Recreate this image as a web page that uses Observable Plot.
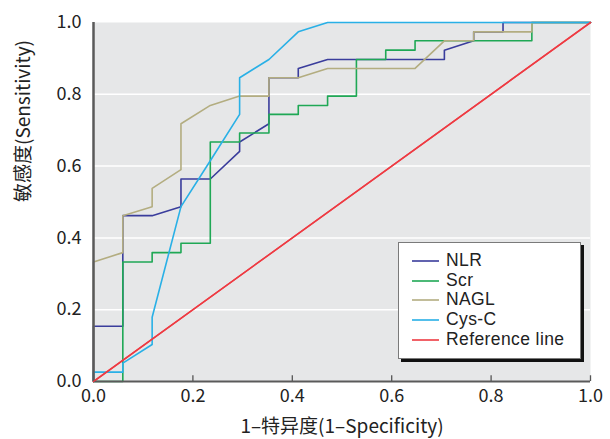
<!DOCTYPE html>
<html>
<head>
<meta charset="utf-8">
<script src="https://cdn.jsdelivr.net/npm/d3@7"></script>
<script src="https://cdn.jsdelivr.net/npm/@observablehq/plot@0.6"></script>
<style>
  body { margin: 0; background: #fff; }
  #wrap { position: relative; width: 610px; height: 439px; font-family: "Noto Sans CJK SC", "Noto Sans", sans-serif; }
  #legend { position: absolute; left: 398px; top: 242px; width: 183px; height: 117px;
    background: #fff; border: 1px solid #7a7a7a; box-shadow: 3px 3px 0 #111; box-sizing: border-box;
    padding-top: 8px; }
  .row { display: flex; align-items: center; height: 19.7px; font-family: "Liberation Sans", Arial, sans-serif;
    font-size: 17.5px; letter-spacing: 0.4px; color: #222; }
  .row span { line-height: 19.7px; white-space: nowrap; }
  .row svg { margin-left: 13px; margin-right: 7px; }
</style>
</head>
<body>
<div id="wrap"><div id="chart"></div><div id="legend"></div></div>
<script>
// ---- data ----
const nlrFpr = [0, 0, 0.059, 0.059, 0.118, 0.176, 0.176, 0.235, 0.294, 0.294, 0.353, 0.353, 0.412, 0.412, 0.471, 0.706, 0.706, 0.765, 0.765, 0.824, 0.824, 1];
const nlrTpr = [0, 0.154, 0.154, 0.462, 0.462, 0.487, 0.564, 0.564, 0.641, 0.667, 0.718, 0.846, 0.846, 0.872, 0.897, 0.897, 0.923, 0.949, 0.974, 0.974, 1, 1];

const scrFpr = [0, 0.059, 0.059, 0.118, 0.118, 0.176, 0.176, 0.235, 0.235, 0.294, 0.294, 0.353, 0.353, 0.412, 0.412, 0.471, 0.471, 0.529, 0.529, 0.588, 0.588, 0.647, 0.647, 0.882, 0.882, 1];
const scrTpr = [0, 0, 0.333, 0.333, 0.359, 0.359, 0.385, 0.385, 0.667, 0.667, 0.692, 0.692, 0.744, 0.744, 0.769, 0.769, 0.795, 0.795, 0.897, 0.897, 0.923, 0.923, 0.949, 0.949, 1, 1];

const naglFpr = [0, 0, 0.059, 0.059, 0.118, 0.118, 0.176, 0.176, 0.235, 0.294, 0.353, 0.353, 0.412, 0.471, 0.647, 0.706, 0.765, 0.765, 0.882, 0.882, 1];
const naglTpr = [0, 0.333, 0.359, 0.462, 0.487, 0.538, 0.590, 0.718, 0.769, 0.795, 0.795, 0.846, 0.846, 0.872, 0.872, 0.949, 0.949, 0.974, 0.974, 1, 1];

const cysFpr = [0, 0, 0.059, 0.059, 0.118, 0.118, 0.176, 0.235, 0.294, 0.294, 0.353, 0.412, 0.471, 1];
const cysTpr = [0, 0.026, 0.026, 0.051, 0.103, 0.179, 0.487, 0.615, 0.744, 0.846, 0.897, 0.974, 1, 1];

const refFpr = [0, 1];
const refTpr = [0, 1];

const seriesNames = ["NLR", "Scr", "NAGL", "Cys-C", "Reference line"];
const seriesColors = ["#3a3d9c", "#1fa855", "#b3ad80", "#29b0e6", "#ee3b43"];
const tickValues = [0, 0.2, 0.4, 0.6, 0.8, 1.0];
const xTitle = "1–特异度(1–Specificity)";
const yTitle = "敏感度(Sensitivity)";

// ---- build rows ----
const seriesX = [nlrFpr, scrFpr, naglFpr, cysFpr, refFpr];
const seriesY = [nlrTpr, scrTpr, naglTpr, cysTpr, refTpr];
const rows = seriesNames.flatMap((name, i) => seriesX[i].map((x, j) => ({name, x, y: seriesY[i][j]})));

const font = "Noto Sans CJK SC";
const chart = Plot.plot({
  width: 610,
  height: 439,
  marginLeft: 93,
  marginRight: 20,
  marginTop: 22,
  marginBottom: 58,
  style: {fontFamily: font, fontSize: "18px", color: "#222", background: "#fff"},
  x: {domain: [0, 1]},
  y: {domain: [0, 1]},
  color: {domain: seriesNames, range: seriesColors},
  marks: [
    Plot.frame({fill: "#e6e7e8", stroke: null}),
    Plot.gridY([0.2, 0.4, 0.6, 0.8], {stroke: "#fff", strokeOpacity: 1, strokeWidth: 1.5}),
    Plot.axisY({ticks: tickValues, tickFormat: d => d.toFixed(1), tickSize: 0, tickPadding: 12, fontSize: 18, label: null}),
    Plot.axisX({ticks: tickValues, tickFormat: d => d.toFixed(1), tickSize: 0, tickPadding: 8, fontSize: 18, label: null}),
    Plot.ruleX(tickValues.slice(1), {y1: 0, y2: 0.016, stroke: "#555", strokeWidth: 1.3}),
    Plot.line(rows, {x: "x", y: "y", z: "name", stroke: "name", strokeWidth: 1.6, curve: "linear"}),
    Plot.ruleX([0], {stroke: "#5a5a5a", strokeWidth: 2.5}),
    Plot.ruleY([0], {stroke: "#5a5a5a", strokeWidth: 2}),
    Plot.line(rows.filter(d => d.name === "Reference line"), {x: "x", y: "y", stroke: seriesColors[4], strokeWidth: 1.3}),
    Plot.text([xTitle], {frameAnchor: "bottom", dy: 51, fontSize: 19, fill: "#222"}),
    Plot.text([yTitle], {frameAnchor: "left", dx: -70, rotate: -90, fontSize: 19, fill: "#222"})
  ]
});
document.getElementById("chart").appendChild(chart);

// ---- legend ----
const legend = document.getElementById("legend");
seriesNames.forEach((name, i) => {
  const row = document.createElement("div");
  row.className = "row";
  row.innerHTML = `<svg width="27" height="4"><line x1="0" x2="27" y1="2" y2="2" stroke="${seriesColors[i]}" stroke-width="1.6"/></svg><span>${name}</span>`;
  legend.appendChild(row);
});
</script>
</body>
</html>
